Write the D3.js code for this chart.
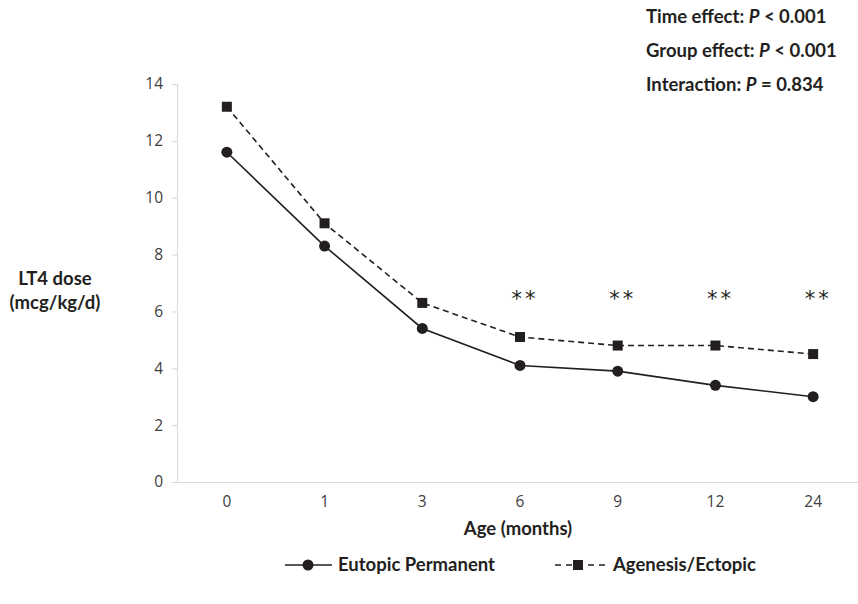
<!DOCTYPE html>
<html>
<head>
<meta charset="utf-8">
<script src="https://cdn.jsdelivr.net/npm/d3@7"></script>
<style>
  body { margin: 0; background: #fff; }
  svg { display: block; font-family: Lato, "Open Sans", sans-serif; }
</style>
</head>
<body>
<div id="chart"></div>
<script>
// data
var ages = ["0", "1", "3", "6", "9", "12", "24"];
var eutopic = [11.6, 8.3, 5.4, 4.1, 3.9, 3.4, 3.0];
var agenesis = [13.2, 9.1, 6.3, 5.1, 4.8, 4.8, 4.5];
var sigAges = ["6", "9", "12", "24"];   // ** marks
var yTicks = [0, 2, 4, 6, 8, 10, 12, 14];
var stats = [
  ["Time effect: ", "P", " < 0.001"],
  ["Group effect: ", "P", " < 0.001"],
  ["Interaction: ", "P", " = 0.834"]
];

var width = 858, height = 604;
var ink = "#231f20";
var fs = 18.5;

var svg = d3.select("#chart").append("svg")
  .attr("width", width)
  .attr("height", height);

var x = d3.scaleBand().domain(ages).range([178, 862]);
var y = d3.scaleLinear().domain([0, 14]).range([482, 84]);

// y axis
var yAxis = svg.append("g")
  .attr("transform", "translate(177,0)")
  .call(d3.axisLeft(y).tickValues(yTicks).tickSize(5).tickPadding(9));
yAxis.select(".domain").attr("stroke", "#d9d9d9");
yAxis.selectAll(".tick line").attr("stroke", "#d9d9d9");
yAxis.selectAll(".tick text").attr("fill", "#404040").attr("font-size", 15.5)
  .attr("font-family", "Open Sans, sans-serif");

// x axis
var xAxis = svg.append("g")
  .attr("transform", "translate(0,482)")
  .call(d3.axisBottom(x).tickSize(0).tickPadding(14));
xAxis.select(".domain").attr("stroke", "#d9d9d9").attr("d", "M172,0.5H858");
xAxis.selectAll(".tick text").attr("fill", "#404040").attr("font-size", 15.5)
  .attr("font-family", "Open Sans, sans-serif");

var cx = function(d, i) { return x(ages[i]) + x.bandwidth() / 2; };

// lines
var line = d3.line().x(cx).y(function(d) { return y(d); });

svg.append("path").datum(agenesis)
  .attr("d", line).attr("fill", "none")
  .attr("stroke", ink).attr("stroke-width", 1.6).attr("stroke-dasharray", "6,4");

svg.append("path").datum(eutopic)
  .attr("d", line).attr("fill", "none")
  .attr("stroke", ink).attr("stroke-width", 1.6);

// markers
svg.selectAll("rect.ag").data(agenesis).enter().append("rect")
  .attr("class", "ag")
  .attr("x", function(d, i) { return cx(d, i) - 5; })
  .attr("y", function(d) { return y(d) - 5; })
  .attr("width", 10).attr("height", 10)
  .attr("fill", ink);

svg.selectAll("circle.eu").data(eutopic).enter().append("circle")
  .attr("class", "eu")
  .attr("cx", cx)
  .attr("cy", function(d) { return y(d); })
  .attr("r", 5.5)
  .attr("fill", ink);

// significance marks
svg.selectAll("text.sig").data(sigAges).enter().append("text")
  .attr("class", "sig")
  .attr("x", function(d) { return x(d) + x.bandwidth() / 2 + 5; })
  .attr("y", y(6.2))
  .attr("text-anchor", "middle")
  .attr("font-size", 21)
  .attr("letter-spacing", 3)
  .attr("font-family", "DejaVu Sans, sans-serif")
  .attr("fill", ink)
  .text("**");

// axis titles
svg.append("text")
  .attr("x", 518).attr("y", 535)
  .attr("text-anchor", "middle")
  .attr("font-size", fs).attr("font-weight", "bold").attr("fill", ink)
  .text("Age (months)");

var yt = svg.append("text")
  .attr("text-anchor", "middle")
  .attr("font-size", fs).attr("font-weight", "bold").attr("fill", ink);
yt.append("tspan").attr("x", 55).attr("y", 285).text("LT4 dose");
yt.append("tspan").attr("x", 55).attr("y", 309).text("(mcg/kg/d)");

// stats text
stats.forEach(function(s, i) {
  var t = svg.append("text")
    .attr("x", 646).attr("y", 23 + i * 34)
    .attr("font-size", fs).attr("font-weight", "bold").attr("fill", ink);
  t.append("tspan").text(s[0]);
  t.append("tspan").attr("font-style", "italic").text(s[1]);
  t.append("tspan").text(s[2]);
});

// legend
var lg = svg.append("g");
lg.append("line").attr("x1", 285).attr("x2", 332).attr("y1", 565).attr("y2", 565)
  .attr("stroke", ink).attr("stroke-width", 1.6);
lg.append("circle").attr("cx", 308).attr("cy", 565).attr("r", 5.5).attr("fill", ink);
lg.append("text").attr("x", 338).attr("y", 571)
  .attr("font-size", fs).attr("font-weight", "bold").attr("fill", ink)
  .text("Eutopic Permanent");

lg.append("line").attr("x1", 555).attr("x2", 605).attr("y1", 565).attr("y2", 565)
  .attr("stroke", ink).attr("stroke-width", 1.6).attr("stroke-dasharray", "6,5");
lg.append("rect").attr("x", 573).attr("y", 560).attr("width", 10).attr("height", 10).attr("fill", ink);
lg.append("text").attr("x", 613).attr("y", 571)
  .attr("font-size", fs).attr("font-weight", "bold").attr("fill", ink)
  .text("Agenesis/Ectopic");
</script>
</body>
</html>
